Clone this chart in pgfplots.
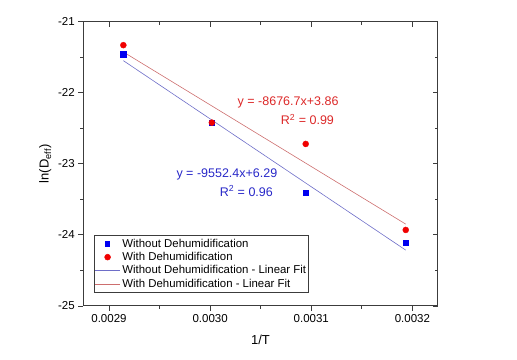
\documentclass[border=0pt]{standalone}
\usepackage{pgfplots}
\pgfplotsset{compat=1.18}
\usepackage{fontspec}
\setmainfont{Liberation Sans}
\definecolor{axgray}{RGB}{60,60,60}
\definecolor{mblue}{RGB}{0,0,240}
\definecolor{mred}{RGB}{240,0,0}
\definecolor{tblue}{RGB}{40,40,200}
\definecolor{tred}{RGB}{220,40,40}
\definecolor{lblue}{RGB}{110,110,200}
\definecolor{lred}{RGB}{205,110,110}
\begin{document}
\begin{tikzpicture}[x=1pt,y=1pt]
\path[use as bounding box] (0,0) rectangle (517,359);
\pgfplotsset{common/.style={
  at={(83.3pt,53pt)}, anchor=south west,
  scale only axis, width=354.4pt, height=284.3pt,
  xmin=0.0028746, xmax=0.003225, ymin=-25, ymax=-21,
  xtick={0.0029,0.0030,0.0031,0.0032},
  ytick={-25,-24,-23,-22,-21},
  minor x tick num=1, minor y tick num=1,
  scaled x ticks=false,
  major tick length=5pt, minor tick length=3pt,
  axis line style={axgray, line width=1pt},
  every tick/.style={axgray, line width=0.9pt},
  tick label style={font=\fontsize{11.5}{13}\selectfont},
}}
\begin{axis}[common,
  xtick pos=left, ytick pos=left, tick align=outside,
  xticklabels={0.0029,0.0030,0.0031,0.0032},
  yticklabels={-25,-24,-23,-22,-21},
  xlabel={1/T}, ylabel={ln(D\textsubscript{eff})},
  label style={font=\fontsize{13}{15}\selectfont},
  xlabel style={yshift=-6pt},
  legend style={at={(0.0316,0.2497)}, anchor=north west, draw=axgray, line width=0.6pt,
    font=\fontsize{11.4}{13}\selectfont, inner xsep=0pt, inner ysep=3pt,
    row sep=2.4pt,
    nodes={inner xsep=2pt, inner ysep=0.6pt}},
  legend cell align=left,
]
\addplot[only marks, mark=square*, mark size=2.7pt, mblue, mark options={draw=mblue, fill=mblue},
  legend image code/.code={\fill[mblue] (10.4pt,-2.1pt) rectangle (14.6pt,2.1pt);}]
  coordinates {(0.0029142,-21.46) (0.0030017,-22.42) (0.0030945,-23.41) (0.0031934,-24.11)};
\addlegendentry{Without Dehumidification}
\addplot[only marks, mark=*, mark size=3pt, mred, mark options={draw=mred, fill=mred},
  legend image code/.code={\fill[mred] (12.5pt,0pt) circle (2.9pt);}]
  coordinates {(0.0029142,-21.33) (0.0030017,-22.42) (0.0030945,-22.72) (0.0031934,-23.93)};
\addlegendentry{With Dehumidification}
\addplot[lblue, line width=0.6pt, no marks,
  legend image code/.code={\draw[lblue, line width=0.6pt] (0pt,0pt) -- (25pt,0pt);}]
  coordinates {(0.0029142,-21.548) (0.0031934,-24.214)};
\addlegendentry{Without Dehumidification - Linear Fit}
\addplot[lred, line width=0.6pt, no marks,
  legend image code/.code={\draw[lred, line width=0.6pt] (0pt,0pt) -- (25pt,0pt);}]
  coordinates {(0.0029142,-21.426) (0.0031934,-23.848)};
\addlegendentry{With Dehumidification - Linear Fit}
\node[tred, font=\fontsize{12.5}{15}\selectfont, inner sep=0pt] at (axis cs:0.0030771,-22.139) {y = -8676.7x+3.86};
\node[tred, font=\fontsize{12.5}{15}\selectfont, inner sep=0pt, anchor=east] at (axis cs:0.0031226,-22.373) {R\textsuperscript{2} = 0.99};
\node[tblue, font=\fontsize{12.5}{15}\selectfont, inner sep=0pt] at (axis cs:0.0030166,-23.142) {y = -9552.4x+6.29};
\node[tblue, font=\fontsize{12.5}{15}\selectfont, inner sep=0pt, anchor=east] at (axis cs:0.0030622,-23.381) {R\textsuperscript{2} = 0.96};
\end{axis}
\begin{axis}[common,
  xtick pos=right, ytick pos=right, tick align=inside,
  xticklabels={}, yticklabels={},
]
\end{axis}
\end{tikzpicture}
\end{document}
